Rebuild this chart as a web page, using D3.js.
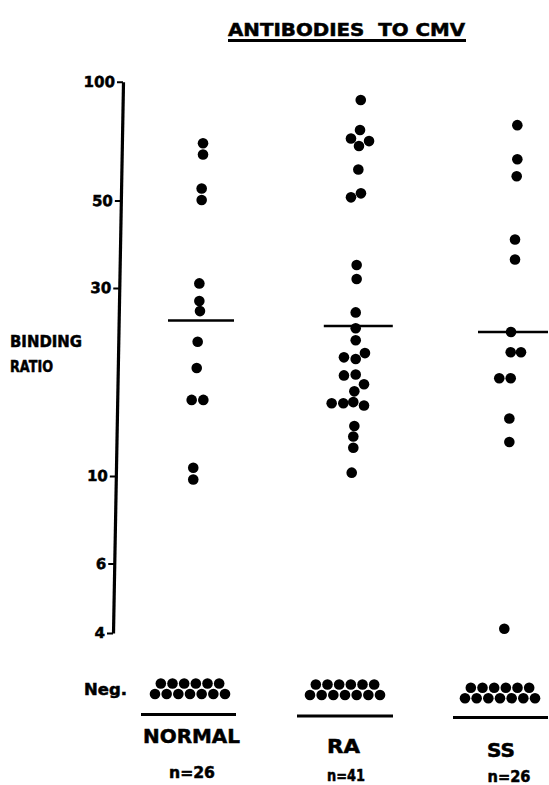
<!DOCTYPE html>
<html>
<head>
<meta charset="utf-8">
<script src="https://cdn.jsdelivr.net/npm/d3@7"></script>
<style>
  html, body { margin: 0; padding: 0; background: #fff; }
  svg { display: block; }
  text { font-family: "DejaVu Sans", sans-serif; font-weight: bold; fill: #000; stroke: #000; stroke-width: 0.5px; }
</style>
</head>
<body>
<script>
// ---------- data ----------
const title = "ANTIBODIES  TO CMV";
const yLabel = ["BINDING", "RATIO"];
const groups = ["NORMAL", "RA", "SS"];
const nLabels = ["n=26", "n=41", "n=26"];
const tickValues = [100, 50, 30, 10, 6, 4];

const normalValues = [69.8, 65.4, 53.6, 50.1, 30.8, 27.8, 26.2, 21.9, 18.8, 15.6, 15.6, 10.5, 9.8];
const raValues = [89.9, 75.4, 71.8, 70.7, 68.7, 59.9, 52.1, 50.9, 34.3, 31.6, 26.0, 23.7, 22.1, 20.5, 20.0, 19.8,
                  18.0, 18.1, 17.1, 16.4, 15.3, 15.3, 15.4, 15.1, 13.4, 12.6, 11.8, 10.2];
const ssValues = [77.6, 63.6, 57.6, 39.8, 35.4, 23.2, 20.6, 20.6, 17.7, 17.7, 14.0, 12.2, 4.1];
const meanValues = [24.8, 24.0, 23.2];
const negativeCounts = [13, 13, 13];

// horizontal jitter of each dot (in dot diameters), as arranged in the original
const normalJitter = [1.24, 1.24, 1.11, 1.11, 0.89, 0.89, 0.95, 0.73, 0.64, 0.16, 1.27, 0.31, 0.31];
const raJitter = [1.50, 1.43, 0.57, 2.29, 1.33, 1.27, 1.52, 0.57, 1.11, 1.11, 1.02, 1.02, 1.02, 1.90, -0.10, 1.02,
                  -0.10, 1.02, 1.81, 0.89, -1.27, -0.16, 0.79, 1.81, 0.89, 0.79, 0.79, 0.64];
const ssJitter = [1.65, 1.65, 1.59, 1.43, 1.43, 1.05, 1.02, 2.00, -0.07, 1.02, 0.89, 0.89, 0.41];

const series = [normalValues, raValues, ssValues];
const jitters = [normalJitter, raJitter, ssJitter];

// ---------- layout ----------
const W = 549, H = 785;
const R = 5.3;          // dot radius
const D = 10.5;         // dot diameter unit for jitter
const layout = {
  meanDx: [11, 13.3, 13], meanW: [66, 69, 70],
  negY: [694, 695, 698.3],
  baseLineY: [714.5, 716, 717.5], baseLineDx: [-1.5, 0, 0.5], baseLineW: [95, 96, 95],
  labelY: [743, 753, 757], labelDx: [1.5, -1.5, 1], labelW: [97, 33, 28],
  nY: [778, 781, 782], nDx: [2, 1, 9], nW: [46, 38, 43]
};

const svg = d3.select("body").append("svg").attr("width", W).attr("height", H);

const y = d3.scaleLog().domain([4, 100]).range([633, 81.7]);
const x = d3.scalePoint().domain(groups).range([190, 500]);
const jx = d3.scaleLinear().domain([0, 1]).range([0, D]);

// title
svg.append("text").attr("x", 228).attr("y", 36)
  .attr("font-size", 17).attr("textLength", 237).attr("lengthAdjust", "spacingAndGlyphs")
  .style("white-space", "pre").text(title);
svg.append("line").attr("x1", 228).attr("x2", 466).attr("y1", 40.5).attr("y2", 40.5)
  .attr("stroke", "#000").attr("stroke-width", 3);

// y axis label
svg.append("text").attr("x", 10).attr("y", 347).attr("font-size", 15)
  .attr("textLength", 72).attr("lengthAdjust", "spacingAndGlyphs").text(yLabel[0]);
svg.append("text").attr("x", 10).attr("y", 372).attr("font-size", 15)
  .attr("textLength", 43).attr("lengthAdjust", "spacingAndGlyphs").text(yLabel[1]);

// y axis (slightly slanted as in the original)
const axisG = svg.append("g").attr("transform", "translate(124.5,0) skewX(-1.04)")
  .call(d3.axisLeft(y).tickValues(tickValues).tickFormat(d3.format("d")).tickSize(6).tickSizeOuter(0).tickPadding(2));
axisG.attr("font-size", 15).attr("font-family", "DejaVu Sans");
axisG.select(".domain").attr("stroke", "#000").attr("stroke-width", 3.2);
axisG.selectAll(".tick line").attr("stroke", "#000").attr("stroke-width", 2);
axisG.selectAll(".tick text").style("font-size", "15px").attr("font-weight", "bold").attr("fill", "#000");

// dots
groups.forEach((g, gi) => {
  svg.append("g").selectAll("circle")
    .data(series[gi].map((v, i) => ({ v, j: jitters[gi][i] })))
    .join("circle")
    .attr("cx", d => x(g) + jx(d.j))
    .attr("cy", d => y(d.v))
    .attr("r", R)
    .attr("fill", "#000");

  // mean line
  const mc = x(g) + layout.meanDx[gi];
  svg.append("line")
    .attr("x1", mc - layout.meanW[gi] / 2).attr("x2", mc + layout.meanW[gi] / 2)
    .attr("y1", y(meanValues[gi])).attr("y2", y(meanValues[gi]))
    .attr("stroke", "#000").attr("stroke-width", 2.5);

  // negatives: two rows (bottom 7, top 6)
  const n = negativeCounts[gi];
  const bottomN = Math.ceil(n / 2), topN = n - bottomN;
  const negs = d3.range(n).map(i => i < bottomN
    ? { col: i - (bottomN - 1) / 2, row: 0 }
    : { col: (i - bottomN) - (topN - 1) / 2, row: 1 });
  svg.append("g").selectAll("circle").data(negs).join("circle")
    .attr("cx", d => x(g) + d.col * 11.67)
    .attr("cy", d => layout.negY[gi] - d.row * 10.5)
    .attr("r", R).attr("fill", "#000");

  // baseline
  const bc = x(g) + layout.baseLineDx[gi];
  svg.append("line")
    .attr("x1", bc - layout.baseLineW[gi] / 2).attr("x2", bc + layout.baseLineW[gi] / 2)
    .attr("y1", layout.baseLineY[gi]).attr("y2", layout.baseLineY[gi])
    .attr("stroke", "#000").attr("stroke-width", 3);

  // group labels
  svg.append("text").attr("x", x(g) + layout.labelDx[gi]).attr("y", layout.labelY[gi])
    .attr("text-anchor", "middle").attr("font-size", 19)
    .attr("textLength", layout.labelW[gi]).attr("lengthAdjust", "spacingAndGlyphs").text(g);
  svg.append("text").attr("x", x(g) + layout.nDx[gi]).attr("y", layout.nY[gi])
    .attr("text-anchor", "middle").attr("font-size", 15)
    .attr("textLength", layout.nW[gi]).attr("lengthAdjust", "spacingAndGlyphs").text(nLabels[gi]);
});

svg.append("text").attr("x", 84).attr("y", 695).attr("font-size", 15)
  .attr("textLength", 43).attr("lengthAdjust", "spacingAndGlyphs").text("Neg.");
</script>
</body>
</html>
